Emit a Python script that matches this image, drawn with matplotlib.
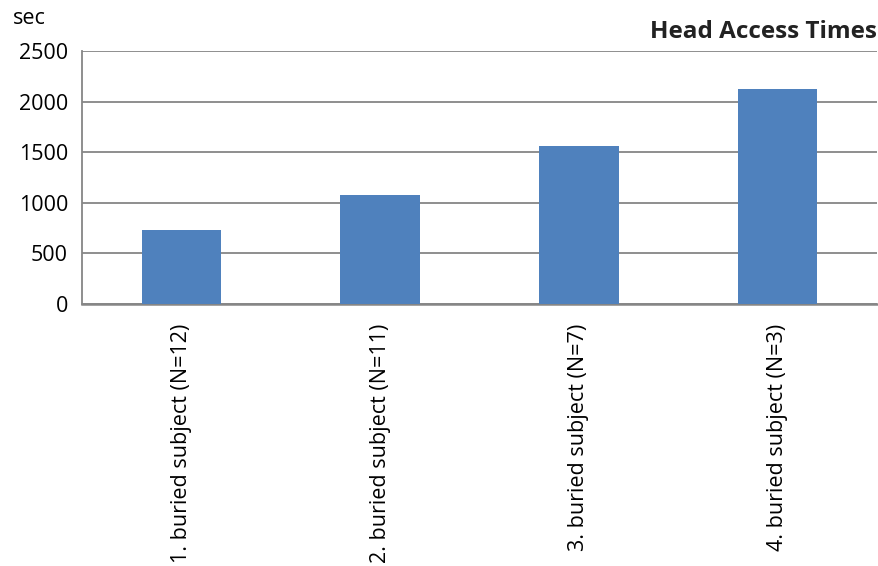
import numpy as np
import matplotlib.pyplot as plt

plt.rcParams['font.family'] = ['Open Sans', 'DejaVu Sans']

categories = ["1. buried subject (N=12)", "2. buried subject (N=11)",
              "3. buried subject (N=7)", "4. buried subject (N=3)"]
times = [727, 1077, 1564, 2123]
y_ticks = [0, 500, 1000, 1500, 2000, 2500]

bar_color = "#4f81bd"
grid_color = "#868686"

fig = plt.figure(figsize=(8.79, 5.66), dpi=100)
ax = fig.add_axes([82 / 879, 1 - 304 / 566, (877 - 82) / 879, (304 - 51) / 566])

x = np.arange(len(categories))
ax.bar(x, times, width=0.4, color=bar_color, zorder=3)

ax.set_xlim(-0.5, len(categories) - 0.5)
ax.set_ylim(0, 2500)
ax.set_yticks(y_ticks)
ax.set_yticklabels([str(v) for v in y_ticks], fontsize=15.5)
ax.set_xticks(x)
ax.set_xticklabels(categories, rotation=90, fontsize=15.5)
ax.tick_params(length=0, pad=14)
ax.tick_params(axis='y', pad=10)

ax.grid(axis='y', color=grid_color, linewidth=1.3, zorder=0)
for side in ["top", "right"]:
    ax.spines[side].set_visible(False)
ax.spines["left"].set_color(grid_color)
ax.spines["bottom"].set_color(grid_color)
ax.spines["left"].set_linewidth(1.3)
ax.spines["bottom"].set_linewidth(1.8)

fig.text(13 / 879, 1 - 18 / 566, "sec", fontsize=15.5, va="center", ha="left")
fig.text(877 / 879, 1 - 32 / 566, "Head Access Times", fontsize=17.5,
         fontweight="bold", va="center", ha="right", color="#222222")

fig.savefig("out.png", dpi=100)
